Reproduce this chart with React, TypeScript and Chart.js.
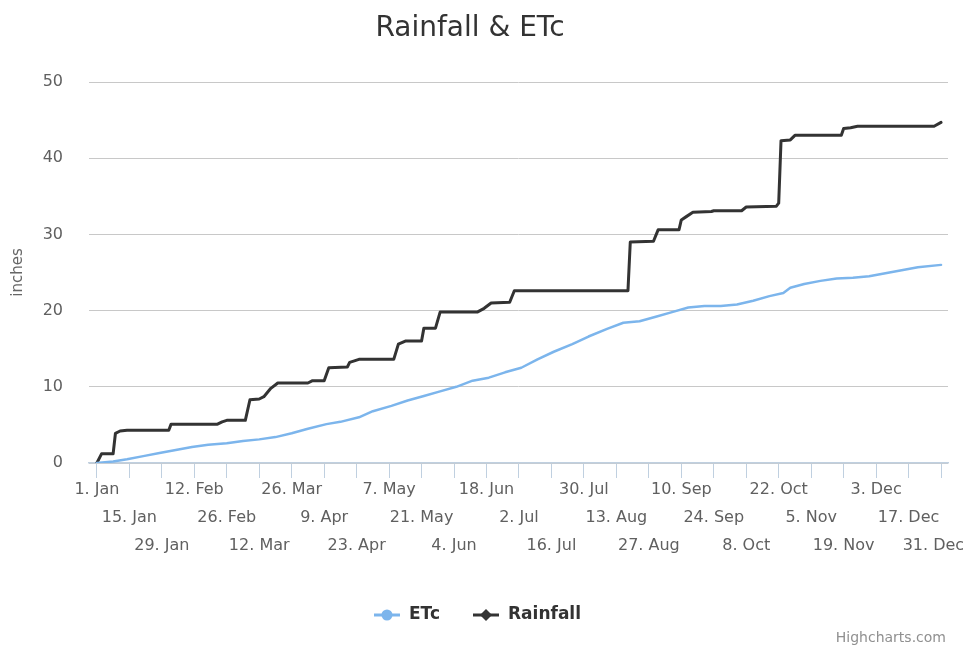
import React, { useEffect, useRef } from 'react';
import { Chart, registerables } from 'chart.js';

Chart.register(...registerables);

const TITLE = 'Rainfall & ETc';
const Y_TITLE = 'inches';
const CREDITS = 'Highcharts.com';

const TICK_DAYS = [0, 14, 28, 42, 56, 70, 84, 98, 112, 126, 140, 154, 168, 182, 196, 210, 224, 238, 252, 266, 280, 294, 308, 322, 336, 350, 364];
const TICK_LABELS = ['1. Jan', '15. Jan', '29. Jan', '12. Feb', '26. Feb', '12. Mar', '26. Mar', '9. Apr', '23. Apr', '7. May', '21. May', '4. Jun', '18. Jun', '2. Jul', '16. Jul', '30. Jul', '13. Aug', '27. Aug', '10. Sep', '24. Sep', '8. Oct', '22. Oct', '5. Nov', '19. Nov', '3. Dec', '17. Dec', '31. Dec'];
const Y_TICKS = [0, 10, 20, 30, 40, 50];

const ETC_DAYS = [0, 7, 13, 20, 27, 34, 41, 48, 56, 63, 70, 77, 84, 91, 99, 105, 113, 119, 127, 134, 141, 148, 155, 162, 169, 176, 183, 190, 197, 205, 212, 220, 227, 234, 241, 248, 255, 262, 269, 276, 283, 290, 296, 299, 305, 312, 319, 326, 333, 340, 347, 354, 364];
const ETC_VALUES = [0, 0.2, 0.5, 0.9, 1.3, 1.7, 2.1, 2.4, 2.6, 2.9, 3.1, 3.4, 3.9, 4.5, 5.1, 5.4, 6.0, 6.8, 7.5, 8.2, 8.8, 9.4, 10.0, 10.8, 11.2, 11.9, 12.5, 13.6, 14.6, 15.6, 16.6, 17.6, 18.4, 18.6, 19.2, 19.8, 20.4, 20.6, 20.6, 20.8, 21.3, 21.9, 22.3, 23.0, 23.5, 23.9, 24.2, 24.3, 24.5, 24.9, 25.3, 25.7, 26.0];

const RAIN_DAYS = [0, 2, 7, 8, 10, 13, 31, 32, 52, 54, 56, 64, 66, 70, 72, 75, 78, 91, 93, 98, 100, 108, 109, 113, 128, 130, 133, 140, 141, 146, 148, 164, 167, 170, 178, 180, 229, 230, 240, 242, 251, 252, 254, 257, 265, 266, 278, 280, 293, 294, 295, 299, 301, 321, 322, 325, 328, 361, 364];
const RAIN_VALUES = [0, 1.2, 1.2, 3.9, 4.2, 4.3, 4.3, 5.1, 5.1, 5.4, 5.6, 5.6, 8.3, 8.4, 8.7, 9.8, 10.5, 10.5, 10.8, 10.8, 12.5, 12.6, 13.2, 13.6, 13.6, 15.6, 16.0, 16.0, 17.7, 17.7, 19.8, 19.8, 20.3, 21.0, 21.1, 22.6, 22.6, 29.0, 29.1, 30.6, 30.6, 31.9, 32.3, 32.9, 33.0, 33.1, 33.1, 33.6, 33.7, 34.1, 42.3, 42.4, 43.0, 43.0, 43.9, 44.0, 44.2, 44.2, 44.7];

const SERIES_NAMES = ['ETc', 'Rainfall'];
const ETC_COLOR = '#7cb5ec';
const RAIN_COLOR = '#333333';
const FONT = '"DejaVu Sans", sans-serif';

const decorPlugin = {
  id: 'decor',
  afterDraw(chart: any) {
    const ctx = chart.ctx;
    ctx.save();
    // Title
    ctx.fillStyle = '#333333';
    ctx.font = `28px ${FONT}`;
    ctx.textAlign = 'center';
    ctx.textBaseline = 'alphabetic';
    ctx.fillText(TITLE, 470, 36);

    // Legend
    const legendY = 615;
    ctx.font = `bold 17px ${FONT}`;
    const w1 = ctx.measureText(SERIES_NAMES[0]).width;
    const w2 = ctx.measureText(SERIES_NAMES[1]).width;
    const sym = 26;
    const gapSymText = 9;
    const gapItems = 33;
    const total = sym + gapSymText + w1 + gapItems + sym + gapSymText + w2;
    let x = 477.5 - total / 2;
    // ETc symbol
    ctx.strokeStyle = ETC_COLOR;
    ctx.lineWidth = 3;
    ctx.beginPath();
    ctx.moveTo(x, legendY);
    ctx.lineTo(x + sym, legendY);
    ctx.stroke();
    ctx.fillStyle = ETC_COLOR;
    ctx.beginPath();
    ctx.arc(x + sym / 2, legendY, 5.5, 0, Math.PI * 2);
    ctx.fill();
    x += sym + gapSymText;
    ctx.fillStyle = '#333333';
    ctx.textAlign = 'left';
    ctx.textBaseline = 'middle';
    ctx.fillText(SERIES_NAMES[0], x, legendY);
    x += w1 + gapItems;
    // Rainfall symbol
    ctx.strokeStyle = RAIN_COLOR;
    ctx.beginPath();
    ctx.moveTo(x, legendY);
    ctx.lineTo(x + sym, legendY);
    ctx.stroke();
    ctx.fillStyle = RAIN_COLOR;
    const cx = x + sym / 2;
    ctx.beginPath();
    ctx.moveTo(cx, legendY - 6);
    ctx.lineTo(cx + 6, legendY);
    ctx.lineTo(cx, legendY + 6);
    ctx.lineTo(cx - 6, legendY);
    ctx.closePath();
    ctx.fill();
    x += sym + gapSymText;
    ctx.fillStyle = '#333333';
    ctx.fillText(SERIES_NAMES[1], x, legendY);

    // Credits
    ctx.font = `14px ${FONT}`;
    ctx.fillStyle = '#909090';
    ctx.textAlign = 'right';
    ctx.textBaseline = 'alphabetic';
    ctx.fillText(CREDITS, 946, 642);
    ctx.restore();
  },
};

export default function App() {
  const canvasRef = useRef<HTMLCanvasElement | null>(null);

  useEffect(() => {
    if (!canvasRef.current) return;
    const etcData = ETC_DAYS.map((d, i) => ({ x: d, y: ETC_VALUES[i] }));
    const rainData = RAIN_DAYS.map((d, i) => ({ x: d, y: RAIN_VALUES[i] }));

    const chart = new Chart(canvasRef.current, {
      type: 'line',
      data: {
        datasets: [
          {
            label: SERIES_NAMES[0],
            data: etcData,
            borderColor: ETC_COLOR,
            backgroundColor: ETC_COLOR,
            borderWidth: 2.5,
            pointRadius: 0,
            tension: 0,
            borderJoinStyle: 'round',
            borderCapStyle: 'round',
          },
          {
            label: SERIES_NAMES[1],
            data: rainData,
            borderColor: RAIN_COLOR,
            backgroundColor: RAIN_COLOR,
            borderWidth: 3,
            pointRadius: 0,
            tension: 0,
            borderJoinStyle: 'round',
            borderCapStyle: 'round',
          },
        ],
      },
      options: {
        animation: false,
        responsive: true,
        maintainAspectRatio: false,
        events: [],
        layout: { padding: { top: 82, right: 15, bottom: 84, left: 0 } },
        plugins: {
          legend: { display: false },
          title: { display: false },
          tooltip: { enabled: false },
        },
        scales: {
          x: {
            type: 'linear',
            min: -3.4,
            max: 367,
            afterBuildTicks: (scale: any) => {
              scale.ticks = TICK_DAYS.map((v) => ({ value: v }));
            },
            afterFit: (scale: any) => {
              scale.height = 100;
              scale.paddingLeft = 0;
              scale.paddingRight = 0;
            },
            grid: {
              drawOnChartArea: false,
              drawTicks: true,
              tickLength: 15,
              color: '#C0D0E0',
              lineWidth: 1,
            },
            border: { display: true, color: '#C0D0E0', width: 1.5 },
            ticks: {
              autoSkip: false,
              maxRotation: 0,
              minRotation: 0,
              padding: -2,
              color: '#606060',
              font: { family: FONT, size: 16, lineHeight: 1.75 },
              callback: (_v: any, index: number) => {
                const row = index % 3;
                const lines: string[] = [];
                for (let k = 0; k < row; k++) lines.push('');
                // keep the last label inside the canvas (shifted left like the original)
                const text = index === TICK_LABELS.length - 1
                  ? TICK_LABELS[index] + '\u00a0\u00a0\u00a0'
                  : TICK_LABELS[index];
                lines.push(text);
                return lines;
              },
            },
          },
          y: {
            type: 'linear',
            min: 0,
            max: 50,
            afterBuildTicks: (scale: any) => {
              scale.ticks = Y_TICKS.map((v) => ({ value: v }));
            },
            afterFit: (scale: any) => {
              scale.width = 89;
            },
            grid: { color: '#C8C8C8', lineWidth: 1, drawTicks: false },
            border: { display: false },
            ticks: {
              padding: 26,
              color: '#606060',
              font: { family: FONT, size: 16 },
            },
            title: {
              display: true,
              text: Y_TITLE,
              color: '#666666',
              font: { family: FONT, size: 15 },
              padding: { top: 9, bottom: 0 },
            },
          },
        },
      },
      plugins: [decorPlugin],
    });
    return () => chart.destroy();
  }, []);

  return (
    <div style={{ position: 'fixed', left: 0, top: 0, width: 963, height: 647, background: '#ffffff' }}>
      <canvas ref={canvasRef} />
    </div>
  );
}
